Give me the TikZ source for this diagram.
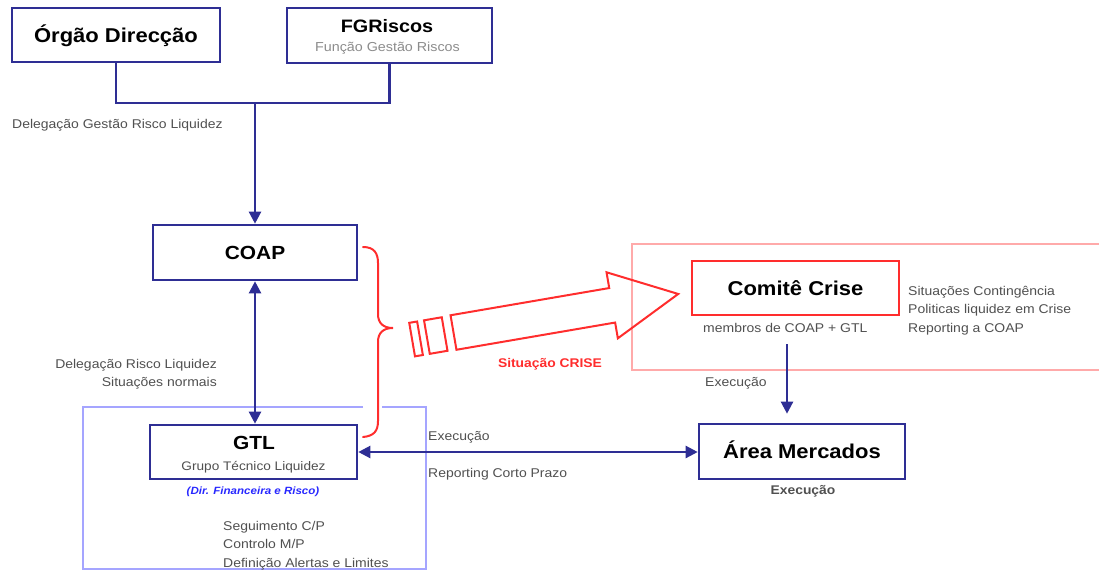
\documentclass[tikz,border=0pt]{standalone}
\usepackage{fontspec}
\setmainfont{Liberation Sans}[FakeStretch=1.1]
\usetikzlibrary{arrows.meta}
\definecolor{boxblue}{RGB}{46,46,148}
\definecolor{lightblue}{RGB}{165,165,255}
\definecolor{pinkline}{RGB}{255,170,170}
\definecolor{crisered}{RGB}{255,45,45}
\definecolor{lblgray}{RGB}{80,80,80}
\definecolor{subgray}{RGB}{140,140,140}
\definecolor{dirblue}{RGB}{40,40,255}
\begin{document}
\begin{tikzpicture}[x=1pt,y=-1pt,
  box/.style={draw=boxblue, line width=2.6pt, fill=white, inner sep=0pt, minimum width=206pt, minimum height=54pt, text depth=0pt},
  bigtxt/.style={font=\fontsize{20}{24}\selectfont\bfseries, text height=14.3pt},
  conn/.style={draw=boxblue, line width=2.3pt},
  tip/.style={-{Triangle[length=12pt,width=12pt]}},
  dtip/.style={{Triangle[length=12pt,width=12pt]}-{Triangle[length=12pt,width=12pt]}},
  lbl/.style={font=\fontsize{12.7}{15}\selectfont, text=lblgray, inner sep=0pt},
  redline/.style={draw=crisered, line width=2pt, line join=miter},
]
\useasboundingbox (0,0) rectangle (1099,571);

% background frames
\draw[draw=lightblue, line width=1.2pt] (363,407) -- (83,407) -- (83,569) -- (426,569) -- (426,407) -- (382,407);
\draw[draw=pinkline, line width=1.2pt] (1102,244) -- (632,244) -- (632,370) -- (1102,370);

% boxes
\node[box, bigtxt, minimum width=208pt] (od) at (116,35) {Órgão Direcção};
\node[box, minimum width=205pt, minimum height=55pt] (fg) at (389.5,35.5) {};
\node[font=\fontsize{18}{21}\selectfont\bfseries, inner sep=0pt, anchor=base] (fgt) at (387,32.5) {FGRiscos};
\node[font=\fontsize{13}{15}\selectfont, text=subgray, inner sep=0pt, anchor=base] (fgs) at (387.5,51.6) {Função Gestão Riscos};

\node[box, bigtxt, font=\fontsize{19}{23}\selectfont\bfseries, text height=13.6pt, minimum width=204pt, minimum height=55pt] (coap) at (255,252.5) {COAP};

\node[box, minimum width=207pt] (gtl) at (253.5,452) {};
\node[font=\fontsize{19}{23}\selectfont\bfseries, inner sep=0pt, anchor=base] (gtlt) at (254,449.8) {GTL};
\node[font=\fontsize{12.4}{15}\selectfont, text=lblgray, inner sep=0pt, anchor=base] (gtls) at (253.5,470.5) {Grupo Técnico Liquidez};
\node[font=\fontsize{10.5}{13}\selectfont\bfseries\itshape, text=dirblue, inner sep=0pt, anchor=base] (dir) at (253,494.5) {(Dir. Financeira e Risco)};

\node[box, bigtxt, draw=crisered, minimum width=207pt] (cc) at (795.5,288) {Comitê Crise};
\node[box, bigtxt, minimum width=206pt, minimum height=55pt] (am) at (802,451.5) {Área Mercados};

% connectors
\coordinate (j) at (255,103);
\draw[conn] (od.south) |- (j) -| (fg.south);
\draw[conn, tip] (j) -- (j |- coap.north);
\draw[conn, dtip] (coap.south) -- (coap.south |- gtl.north);
\draw[conn, dtip] (gtl.east) -- (gtl.east -| am.west);
\coordinate (exs) at (787,344);
\draw[conn, tip, shorten >=9pt] (exs) -- (exs |- am.north);

% labels
\node[lbl, anchor=base west] (l1) at (12,128) {Delegação Gestão Risco Liquidez};
\node[lbl, anchor=base east] (l2) at (217,368) {Delegação Risco Liquidez};
\node[lbl, anchor=base east] (l3) at (217,386) {Situações normais};
\node[lbl, anchor=base west] (l4) at (428,440) {Execução};
\node[lbl, anchor=base west] (l5) at (428,477) {Reporting Corto Prazo};
\node[lbl, anchor=base west] (l6) at (223,530) {Seguimento C/P};
\node[lbl, anchor=base west] (l7) at (223,548) {Controlo M/P};
\node[lbl, anchor=base west] (l8) at (223,567) {Definição Alertas e Limites};
\node[lbl, anchor=base west] (l9) at (908,295) {Situações Contingência};
\node[lbl, anchor=base west] (l10) at (908,313) {Politicas liquidez em Crise};
\node[lbl, anchor=base west] (l11) at (908,332) {Reporting a COAP};
\node[lbl, anchor=base west] (l12) at (703,332) {membros de COAP + GTL};
\node[lbl, anchor=base west] (l13) at (705,386) {Execução};
\node[lbl, font=\fontsize{12.6}{15}\selectfont\bfseries, anchor=base] (l14) at (803,494) {Execução};
\node[lbl, font=\fontsize{12.6}{15}\selectfont\bfseries, text=crisered, anchor=base] (l15) at (550,367.5) {Situação CRISE};

% brace
\draw[redline, line cap=round] (363,247) .. controls (374,247) and (378,253) .. (378,263)
  -- (378,314) .. controls (378,323) and (383,328) .. (393,328)
  .. controls (383,328) and (378,333) .. (378,342)
  -- (378,421) .. controls (378,431) and (374,436) .. (363,437);

% big arrow
\begin{scope}[shift={(453.5,332.5)}, x={(0.9856pt,0.169pt)}, y={(0.169pt,-0.9856pt)}]
  \draw[redline] (0,-17.5) -- (161,-17.5) -- (161,-33.5) -- (228,0) -- (161,33.5) -- (161,17.5) -- (0,17.5) -- cycle;
  \draw[redline] (-27,-17) -- (-9,-17) -- (-9,17) -- (-27,17) -- cycle;
  \draw[redline] (-42,-17) -- (-34,-17) -- (-34,17) -- (-42,17) -- cycle;
\end{scope}
\end{tikzpicture}
\end{document}
